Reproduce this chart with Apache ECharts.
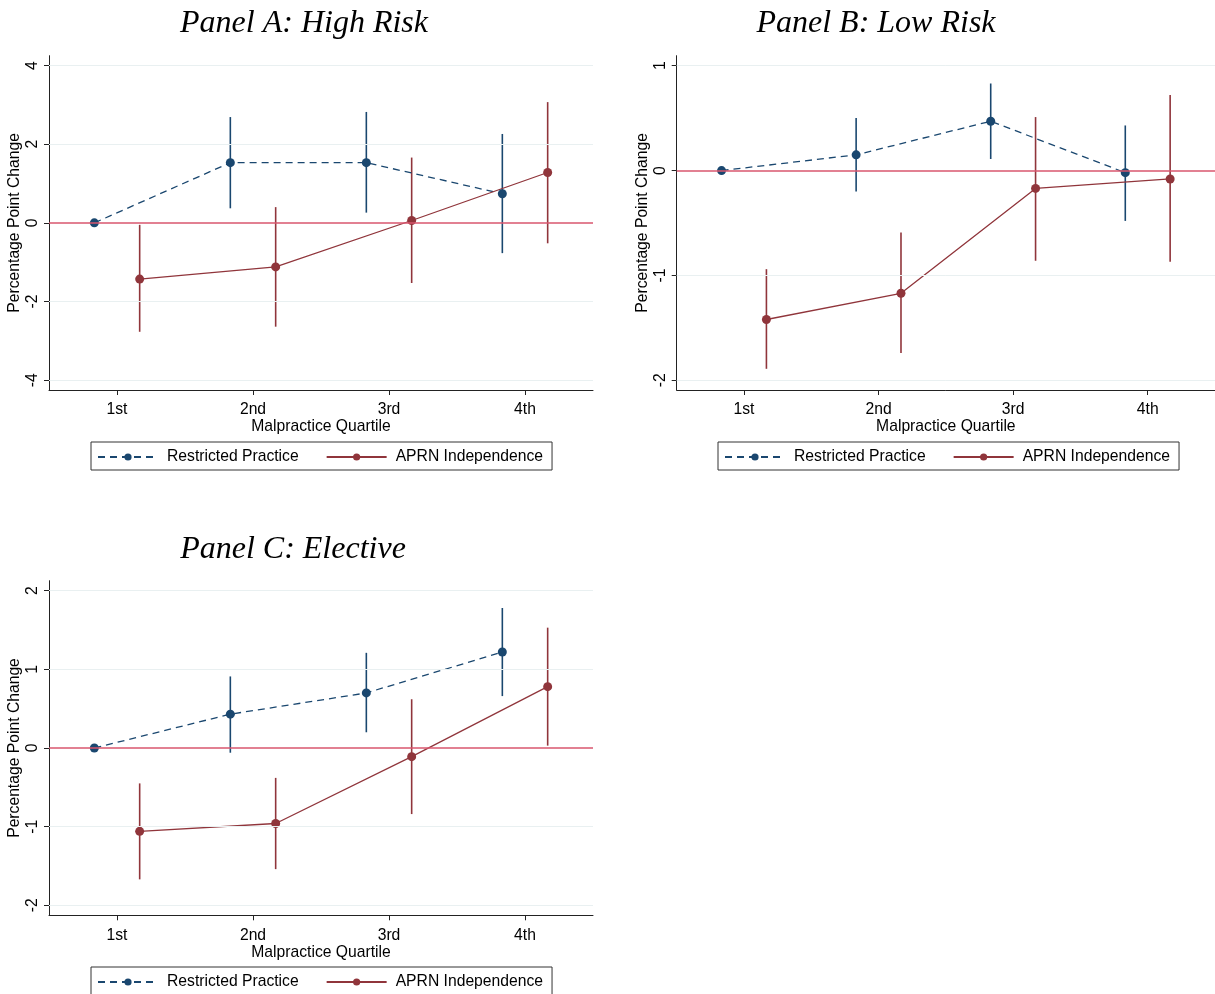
<!DOCTYPE html>
<html>
<head>
<meta charset="utf-8">
<script src="https://cdn.jsdelivr.net/npm/echarts@6/dist/echarts.min.js"></script>
<style>
html,body{margin:0;padding:0;background:#fff;}
#chart{width:1215px;height:994px;}
</style>
</head>
<body>
<div id="chart"></div>
<script>
// ---------- data ----------
const quartiles = ['1st', '2nd', '3rd', '4th'];
const seriesNames = ['Restricted Practice', 'APRN Independence'];
const dodge = 1 / 6; // horizontal offset of each series from the quartile position

// Panel A: High Risk
const aRestrictedEst = [0, 1.53, 1.53, 0.74];
const aRestrictedLo  = [null, 0.37, 0.26, -0.77];
const aRestrictedHi  = [null, 2.69, 2.82, 2.26];
const aAprnEst = [-1.43, -1.12, 0.06, 1.28];
const aAprnLo  = [-2.77, -2.64, -1.53, -0.52];
const aAprnHi  = [-0.05, 0.40, 1.66, 3.07];
const aTicks = [-4, -2, 0, 2, 4];
const aRange = [-4.25, 4.25];

// Panel B: Low Risk
const bRestrictedEst = [0, 0.15, 0.47, -0.02];
const bRestrictedLo  = [null, -0.20, 0.11, -0.48];
const bRestrictedHi  = [null, 0.50, 0.83, 0.43];
const bAprnEst = [-1.42, -1.17, -0.17, -0.08];
const bAprnLo  = [-1.89, -1.74, -0.86, -0.87];
const bAprnHi  = [-0.94, -0.59, 0.51, 0.72];
const bTicks = [-2, -1, 0, 1];
const bRange = [-2.092, 1.095];

// Panel C: Elective
const cRestrictedEst = [0, 0.43, 0.70, 1.22];
const cRestrictedLo  = [null, -0.06, 0.20, 0.66];
const cRestrictedHi  = [null, 0.91, 1.21, 1.78];
const cAprnEst = [-1.06, -0.96, -0.11, 0.78];
const cAprnLo  = [-1.67, -1.54, -0.84, 0.03];
const cAprnHi  = [-0.45, -0.38, 0.62, 1.53];
const cTicks = [-2, -1, 0, 1, 2];
const cRange = [-2.127, 2.127];

const panelTitles = ['Panel A: High Risk', 'Panel B: Low Risk', 'Panel C: Elective'];
const xAxisTitle = 'Malpractice Quartile';
const yAxisTitle = 'Percentage Point Change';

// ---------- styling / layout ----------
const NAVY = '#1a476f';
const MAROON = '#90353b';
const ZERO = '#d9566e';
const GRIDC = '#e9f0f1';
const AXISC = '#222';
const FONT = '"Liberation Sans", Arial, sans-serif';
const FS = 15.7;

const panels = [
  { rEst: aRestrictedEst, rLo: aRestrictedLo, rHi: aRestrictedHi, pEst: aAprnEst, pLo: aAprnLo, pHi: aAprnHi, ticks: aTicks, range: aRange,
    grid: { left: 49, top: 55.7, width: 544, height: 334.3 }, title: [304, 24], legend: [91, 442] },
  { rEst: bRestrictedEst, rLo: bRestrictedLo, rHi: bRestrictedHi, pEst: bAprnEst, pLo: bAprnLo, pHi: bAprnHi, ticks: bTicks, range: bRange,
    grid: { left: 676.7, top: 55.7, width: 542, height: 334.3 }, title: [876, 24], legend: [718, 442] },
  { rEst: cRestrictedEst, rLo: cRestrictedLo, rHi: cRestrictedHi, pEst: cAprnEst, pLo: cAprnLo, pHi: cAprnHi, ticks: cTicks, range: cRange,
    grid: { left: 49, top: 580.7, width: 544, height: 334.6 }, title: [293, 550], legend: [91, 967] }
];

const grids = [], xAxes = [], yAxes = [], series = [], legends = [], graphics = [];

function pointData(est, off) {
  return est.map((v, i) => [i + 1 + off, v]);
}
function barData(lo, hi, off) {
  const out = [];
  lo.forEach((l, i) => { if (l !== null && hi[i] !== null) out.push([i + 1 + off, l, hi[i]]); });
  return out;
}
function errRender(color) {
  return function (params, api) {
    const x = api.value(0);
    const p1 = api.coord([x, api.value(1)]);
    const p2 = api.coord([x, api.value(2)]);
    return { type: 'line', shape: { x1: p1[0], y1: p1[1], x2: p2[0], y2: p2[1] },
      style: { stroke: color, lineWidth: 1.6 } };
  };
}

panels.forEach((p, k) => {
  grids.push(Object.assign({ containLabel: false }, p.grid));
  xAxes.push({
    type: 'value', gridIndex: k, min: 0.5, max: 4.5,
    name: xAxisTitle, nameLocation: 'middle', nameGap: 27,
    nameTextStyle: { fontFamily: FONT, fontSize: FS, color: '#000' },
    axisLine: { show: true, onZero: false, lineStyle: { color: AXISC, width: 1 } },
    axisTick: { show: true, length: 5, customValues: [1, 2, 3, 4], lineStyle: { color: AXISC } },
    axisLabel: { customValues: [1, 2, 3, 4], margin: 12, fontFamily: FONT, fontSize: FS, color: '#000',
      formatter: v => quartiles[Math.round(v) - 1] || '' },
    splitLine: { show: false }
  });
  yAxes.push({
    type: 'value', gridIndex: k, min: p.range[0], max: p.range[1],
    name: yAxisTitle, nameLocation: 'middle', nameGap: 26,
    nameTextStyle: { fontFamily: FONT, fontSize: FS, color: '#000' },
    axisLine: { show: true, onZero: false, lineStyle: { color: AXISC, width: 1 } },
    axisTick: { show: true, length: 5, customValues: p.ticks, lineStyle: { color: AXISC } },
    axisLabel: { customValues: p.ticks, rotate: 90, margin: 8, fontFamily: FONT, fontSize: FS, color: '#000',
      formatter: v => String(v) },
    splitLine: { show: false }
  });
  // gridlines + zero reference line
  series.push({
    type: 'line', name: '_ref' + k, xAxisIndex: k, yAxisIndex: k, data: [], silent: true, z: 1,
    markLine: {
      silent: true, symbol: 'none', label: { show: false }, animation: false,
      data: p.ticks.filter(t => t !== 0).map(t => ({ yAxis: t, lineStyle: { color: GRIDC, width: 1, type: 'solid' } }))
        .concat([{ yAxis: 0, lineStyle: { color: ZERO, width: 1.5, type: 'solid' } }])
    }
  });
  // error bars
  series.push({
    type: 'custom', name: '_rbar' + k, xAxisIndex: k, yAxisIndex: k, z: 2, silent: true,
    data: barData(p.rLo, p.rHi, -dodge), encode: { x: 0, y: [1, 2] }, renderItem: errRender(NAVY)
  });
  series.push({
    type: 'custom', name: '_pbar' + k, xAxisIndex: k, yAxisIndex: k, z: 2, silent: true,
    data: barData(p.pLo, p.pHi, dodge), encode: { x: 0, y: [1, 2] }, renderItem: errRender(MAROON)
  });
  // point estimates
  series.push({
    type: 'line', name: seriesNames[0], xAxisIndex: k, yAxisIndex: k, z: 3,
    data: pointData(p.rEst, -dodge), symbol: 'circle', symbolSize: 9, showSymbol: true,
    lineStyle: { color: NAVY, width: 1.3, type: [7, 5] }, itemStyle: { color: NAVY }
  });
  series.push({
    type: 'line', name: seriesNames[1], xAxisIndex: k, yAxisIndex: k, z: 3,
    data: pointData(p.pEst, dodge), symbol: 'circle', symbolSize: 9, showSymbol: true,
    lineStyle: { color: MAROON, width: 1.3, type: 'solid' }, itemStyle: { color: MAROON }
  });
  legends.push({
    left: p.legend[0], top: p.legend[1], orient: 'horizontal',
    data: seriesNames, itemWidth: 60, itemHeight: 9, itemGap: 27,
    padding: [7, 9, 5, 6], borderColor: '#333', borderWidth: 1, borderRadius: 0,
    selectedMode: false,
    textStyle: { fontFamily: FONT, fontSize: FS, color: '#000', padding: [0, 0, 0, 4] }
  });
  graphics.push({
    type: 'text', x: p.title[0], y: p.title[1], silent: true,
    style: { text: panelTitles[k], font: 'italic 32px "Liberation Serif", "Times New Roman", serif',
      fill: '#000', textAlign: 'center', textVerticalAlign: 'middle' }
  });
});

const chart = echarts.init(document.getElementById('chart'), null, { renderer: 'canvas' });
chart.setOption({
  backgroundColor: '#fff',
  animation: false,
  grid: grids, xAxis: xAxes, yAxis: yAxes, series: series, legend: legends,
  graphic: graphics,
  tooltip: { show: false }
});
</script>
</body>
</html>
